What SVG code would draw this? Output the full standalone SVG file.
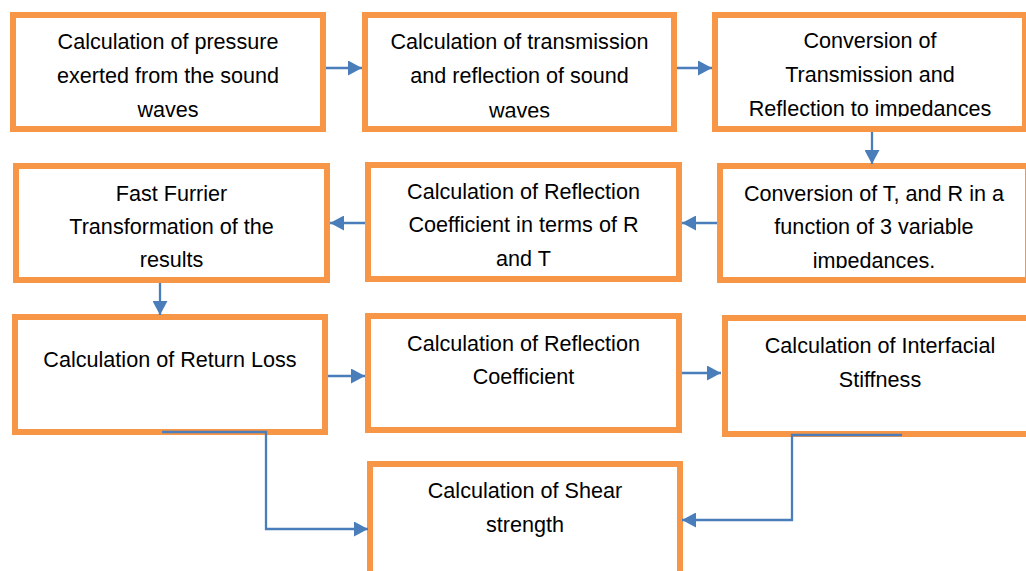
<svg xmlns="http://www.w3.org/2000/svg" width="1026" height="571" viewBox="0 0 1026 571">
<style>
.box{fill:#fff;stroke:#F79646;stroke-width:6}
.t{font-family:"Liberation Sans",Arial,sans-serif;font-size:21.6px;fill:#000;text-anchor:middle}
.c{fill:none;stroke:#4A7EBB;stroke-width:2.3}
</style>
<defs>
<marker id="ah" markerUnits="userSpaceOnUse" markerWidth="15" markerHeight="15" refX="14" refY="7.5" orient="auto">
<path d="M0,0 L14,7.5 L0,15 z" fill="#4A7EBB"/>
</marker>
<clipPath id="cl2"><rect x="365" y="0" width="310" height="117.5"/></clipPath>
<clipPath id="cl3"><rect x="715" y="0" width="311" height="116.5"/></clipPath>
<clipPath id="cl6"><rect x="720" y="150" width="306" height="118"/></clipPath>
</defs>
<rect width="1026" height="571" fill="#fff"/>
<g id="n1"><rect class="box" x="13" y="15" width="310" height="114"/>
<text class="t" x="168" y="49">Calculation of pressure</text>
<text class="t" x="168" y="83">exerted from the sound</text>
<text class="t" x="168" y="117">waves</text></g>
<g id="n2"><rect class="box" x="365" y="15" width="309" height="114"/>
<g clip-path="url(#cl2)">
<text class="t" x="519.5" y="49">Calculation of transmission</text>
<text class="t" x="519.5" y="83">and reflection of sound</text>
<text class="t" x="519.5" y="118">waves</text></g></g>
<g id="n3"><rect class="box" x="715" y="15" width="310" height="114"/>
<g clip-path="url(#cl3)">
<text class="t" x="870" y="48">Conversion of</text>
<text class="t" x="870" y="82">Transmission and</text>
<text class="t" x="870" y="116">Reflection to impedances</text></g></g>
<g id="n4"><rect class="box" x="16" y="166" width="311" height="114"/>
<text class="t" x="171.5" y="201">Fast Furrier</text>
<text class="t" x="171.5" y="234">Transformation of the</text>
<text class="t" x="171.5" y="267">results</text></g>
<g id="n5"><rect class="box" x="368" y="165" width="311" height="114"/>
<text class="t" x="523.5" y="199">Calculation of Reflection</text>
<text class="t" x="523.5" y="232">Coefficient in terms of R</text>
<text class="t" x="523.5" y="266">and T</text></g>
<g id="n6"><rect class="box" x="720" y="166" width="308" height="114"/>
<g clip-path="url(#cl6)">
<text class="t" x="874" y="201">Conversion of T, and R in a</text>
<text class="t" x="874" y="234">function of 3 variable</text>
<text class="t" x="874" y="268">impedances.</text></g></g>
<g id="n7"><rect class="box" x="15" y="317" width="310" height="115"/>
<text class="t" x="170" y="367">Calculation of Return Loss</text></g>
<g id="n8"><rect class="box" x="368" y="316" width="311" height="114"/>
<text class="t" x="523.5" y="351">Calculation of Reflection</text>
<text class="t" x="523.5" y="384">Coefficient</text></g>
<g id="n9"><rect class="box" x="725" y="318" width="310" height="116"/>
<text class="t" x="880" y="353">Calculation of Interfacial</text>
<text class="t" x="880" y="387">Stiffness</text></g>
<g id="n10"><rect class="box" x="370" y="464" width="310" height="130"/>
<text class="t" x="525" y="498">Calculation of Shear</text>
<text class="t" x="525" y="532">strength</text></g>
<g id="connectors">
<path class="c" marker-end="url(#ah)" d="M326,68 H362"/>
<path class="c" marker-end="url(#ah)" d="M677,68 H712"/>
<path class="c" marker-end="url(#ah)" d="M872,132 V164"/>
<path class="c" marker-end="url(#ah)" d="M717,223 H682"/>
<path class="c" marker-end="url(#ah)" d="M365,223 H330"/>
<path class="c" marker-end="url(#ah)" d="M160,283 V315"/>
<path class="c" marker-end="url(#ah)" d="M328,376 H365"/>
<path class="c" marker-end="url(#ah)" d="M682,373 H721"/>
<path class="c" marker-end="url(#ah)" d="M162,432 H266 V529 H368"/>
<path class="c" marker-end="url(#ah)" d="M902,435 H792 V520 H682"/>
</g>
</svg>
